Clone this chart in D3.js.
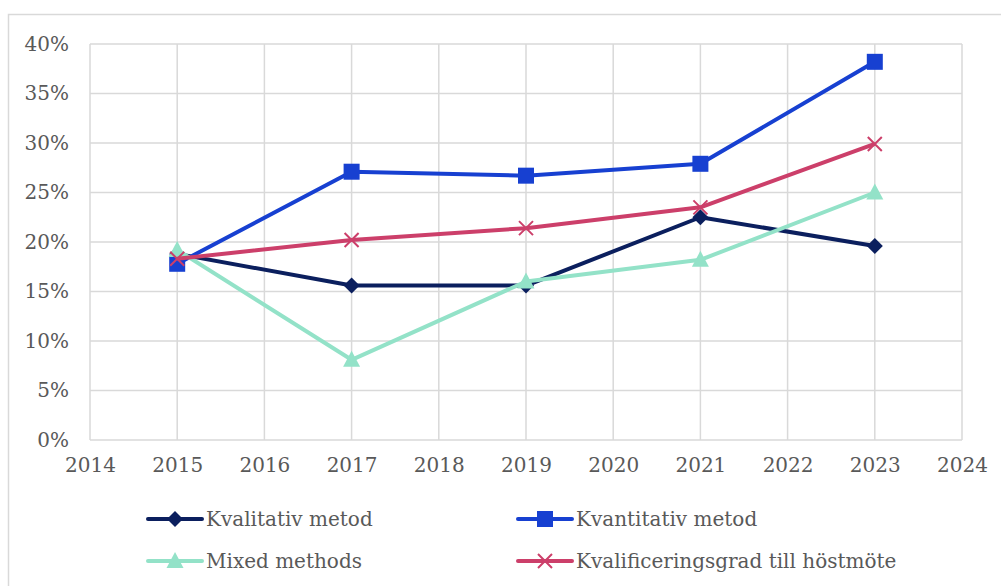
<!DOCTYPE html>
<html>
<head>
<meta charset="utf-8">
<script src="https://cdn.jsdelivr.net/npm/d3@7"></script>
<style>
  body { margin: 0; background: #fff; }
</style>
</head>
<body>
<div id="chart"></div>
<script>
// data
var years = [2015, 2017, 2019, 2021, 2023];
var kvalitativ = [0.188, 0.156, 0.156, 0.225, 0.196];
var kvantitativ = [0.178, 0.271, 0.267, 0.279, 0.382];
var mixed = [0.192, 0.081, 0.160, 0.182, 0.250];
var kvalificering = [0.183, 0.202, 0.214, 0.235, 0.299];
var seriesNames = ["Kvalitativ metod", "Kvantitativ metod", "Mixed methods", "Kvalificeringsgrad till höstmöte"];
var xTicks = [2014, 2015, 2016, 2017, 2018, 2019, 2020, 2021, 2022, 2023, 2024];
var yTicks = [0, 0.05, 0.10, 0.15, 0.20, 0.25, 0.30, 0.35, 0.40];

var width = 1001, height = 586;
var plot = {left: 90, right: 962, top: 44, bottom: 440};
var serif = "DejaVu Serif";   // the only serif face that is actually there
var fontSize = 20;

var svg = d3.select("#chart").append("svg")
    .attr("width", width)
    .attr("height", height);

// outer chart border
svg.append("rect")
    .attr("x", 8.5).attr("y", 14.5)
    .attr("width", 1000).attr("height", 600)
    .attr("fill", "none")
    .attr("stroke", "#d9d9d9")
    .attr("stroke-width", 1.5);

var x = d3.scaleLinear().domain([2014, 2024]).range([plot.left, plot.right]);
var y = d3.scaleLinear().domain([0, 0.40]).range([plot.bottom, plot.top]);

// grid
var grid = svg.append("g").attr("class", "grid");
grid.selectAll("line.h").data(yTicks).enter().append("line")
    .attr("x1", plot.left).attr("x2", plot.right)
    .attr("y1", function (d) { return y(d); })
    .attr("y2", function (d) { return y(d); })
    .attr("stroke", "#d9d9d9").attr("stroke-width", 1.5);
grid.selectAll("line.v").data(xTicks).enter().append("line")
    .attr("y1", plot.top).attr("y2", plot.bottom)
    .attr("x1", function (d) { return x(d); })
    .attr("x2", function (d) { return x(d); })
    .attr("stroke", "#d9d9d9").attr("stroke-width", 1.5);

// axes (labels only, lines come from the grid)
var yAxis = svg.append("g")
    .attr("transform", "translate(" + plot.left + ",0)")
    .call(d3.axisLeft(y).tickValues(yTicks).tickSize(0).tickPadding(21)
        .tickFormat(d3.format(".0%")));
var xAxis = svg.append("g")
    .attr("transform", "translate(0," + plot.bottom + ")")
    .call(d3.axisBottom(x).tickValues(xTicks).tickSize(0).tickPadding(18)
        .tickFormat(d3.format("d")));
[yAxis, xAxis].forEach(function (a) {
    a.select(".domain").remove();
    a.attr("font-family", serif).attr("font-size", fontSize);
    a.selectAll("text").attr("fill", "#595959");
});

var series = [
    {name: seriesNames[0], values: kvalitativ, color: "#0b1f5e", marker: "diamond"},
    {name: seriesNames[1], values: kvantitativ, color: "#1740d1", marker: "square"},
    {name: seriesNames[2], values: mixed, color: "#93e2c8", marker: "triangle"},
    {name: seriesNames[3], values: kvalificering, color: "#cc3f6a", marker: "cross"}
];

var line = d3.line()
    .x(function (d) { return x(d[0]); })
    .y(function (d) { return y(d[1]); });

function drawMarker(g, type, color) {
    if (type === "diamond") {
        g.append("path").attr("d", "M0,-8L8,0L0,8L-8,0Z").attr("fill", color);
    } else if (type === "square") {
        g.append("rect").attr("x", -8).attr("y", -8).attr("width", 16).attr("height", 16).attr("fill", color);
    } else if (type === "triangle") {
        g.append("path").attr("d", "M0,-9L8.5,7L-8.5,7Z").attr("fill", color);
    } else {
        g.append("path").attr("d", "M-7,-7L7,7M-7,7L7,-7")
            .attr("stroke", color).attr("stroke-width", 2).attr("fill", "none");
    }
}

series.forEach(function (s) {
    var pts = years.map(function (yr, i) { return [yr, s.values[i]]; });
    svg.append("path").datum(pts)
        .attr("d", line)
        .attr("fill", "none")
        .attr("stroke", s.color)
        .attr("stroke-width", 4)
        .attr("stroke-linejoin", "round");
    pts.forEach(function (p) {
        var g = svg.append("g").attr("transform", "translate(" + x(p[0]) + "," + y(p[1]) + ")");
        drawMarker(g, s.marker, s.color);
    });
});

// legend, 2 x 2
var legendPos = [[148, 519], [518, 519], [148, 561], [518, 561]];
series.forEach(function (s, i) {
    var g = svg.append("g").attr("transform", "translate(" + legendPos[i][0] + "," + legendPos[i][1] + ")");
    g.append("line").attr("x1", 0).attr("x2", 54).attr("y1", 0).attr("y2", 0)
        .attr("stroke", s.color).attr("stroke-width", 4).attr("stroke-linecap", "round");
    var m = g.append("g").attr("transform", "translate(27,0)");
    drawMarker(m, s.marker, s.color);
    g.append("text").attr("x", 58).attr("y", 0).attr("dy", "0.35em")
        .attr("font-family", serif)
        .attr("font-size", fontSize)
        .attr("fill", "#595959")
        .text(s.name);
});
</script>
</body>
</html>
